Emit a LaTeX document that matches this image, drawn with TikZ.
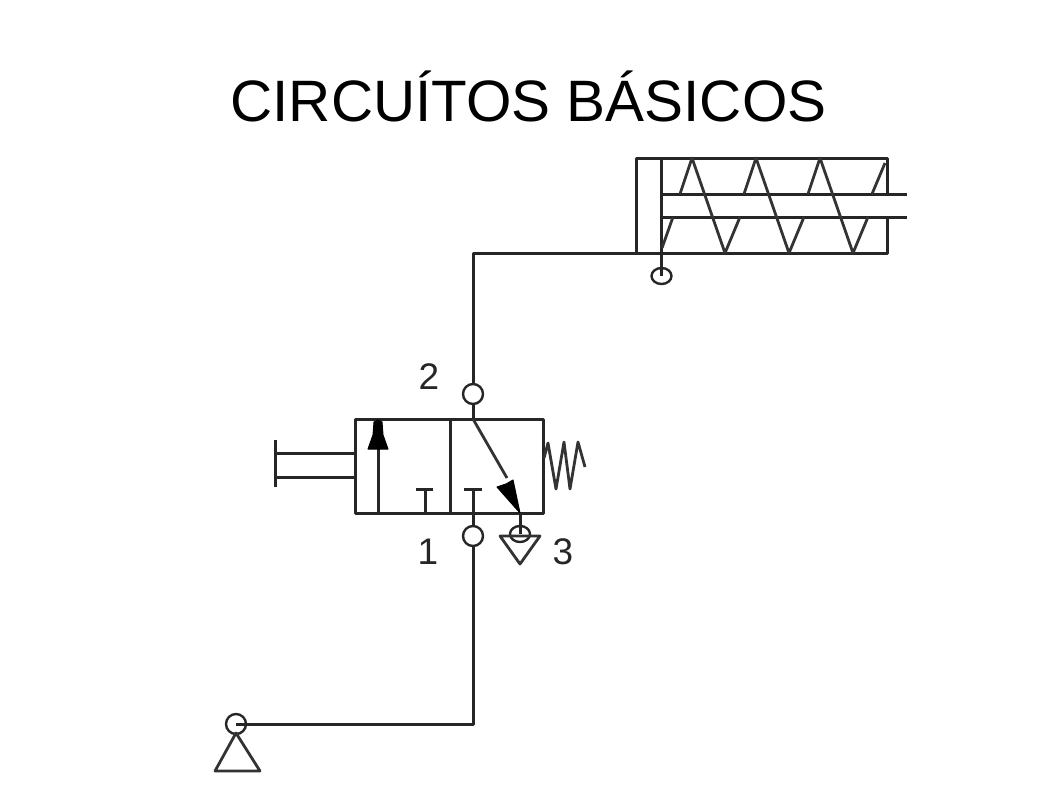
\documentclass[tikz,border=0pt]{standalone}
\usepackage{fontspec}
\setmainfont{Liberation Sans}
\usepackage{tikz}
\usetikzlibrary{shapes.geometric}
\tikzstyle{pipe}  = [draw, line width=3pt, line join=round, color=black!85]
\tikzstyle{thin}  = [draw, line width=2.8pt, line join=round, color=black!80]
\tikzstyle{port}  = [circle, draw, line width=2.4pt, color=black!85, minimum size=20pt, inner sep=0pt]
\tikzstyle{oval}  = [ellipse, draw, line width=2.4pt, color=black!85, minimum width=20pt, minimum height=16pt, inner sep=0pt]
\tikzstyle{digit} = [font=\fontsize{37}{37}\selectfont, inner sep=0pt, color=black!85]
\tikzstyle{head}  = [fill=black, draw, line width=1pt, line join=round]

\begin{document}
\begin{tikzpicture}[x=1pt, y=-1pt]
    \useasboundingbox (0,0) rectangle (1058,793);
    \node[font=\fontsize{58.4}{58.4}\selectfont, inner sep=0pt](title) at (528.5,96){CIRCUÍTOS BÁSICOS};

    % cylinder
    \coordinate (bend) at (473,253);
    \coordinate (corner) at (473,724);
    \coordinate (rodtop) at (907,194);
    \coordinate (rodbot) at (907,217);
    \node[oval](cylport) at (661.5,276){};
    \draw[pipe] (636,253) -- (636,158) -- (887,158) -- (887,194);
    \draw[pipe] (887,217) -- (887,253) -- (661.5,253);
    \draw[pipe] (661.5,158) -- (661.5,253) -- (cylport.center);
    \draw[pipe] (661.5,194) -- (rodtop);
    \draw[pipe] (661.5,217) -- (rodbot);
    \draw[thin] (662,248) -- (673,217);
    \draw[thin] (680,194) -- (692,158) -- (725,253) -- (740,217);
    \draw[thin] (744,194) -- (756,158) -- (789,253) -- (804,217);
    \draw[thin] (808,194) -- (820,158) -- (853,253) -- (868,217);
    \draw[thin] (872,194) -- (885,163);

    % valve
    \node[port](top) at (473,394){};
    \node[port](bot) at (473,536){};
    \node[digit](two) at (429,377){2};
    \node[digit](one) at (428,552){1};
    \node[digit](three) at (563,552){3};
    \draw[pipe] (355,419) rectangle (543,513);
    \draw[pipe] (450,419) -- (450,513);
    \draw[pipe] (378,513) -- (378,440);
    \draw[head] (378,420) -- (382,422) -- (383,435) -- (388,449) -- (368,449) -- (373,435) -- (374,422) -- cycle;
    \draw[pipe] (425,513) -- (425,489);
    \draw[pipe] (416,489) -- (433,489);
    \draw[pipe] (473,513) -- (473,489);
    \draw[pipe] (464,489) -- (482,489);
    \draw[thin] (473,419) -- (507,478);
    \draw[head] (520,513) -- (497,487) -- (506,484) -- (513,480) -- cycle;

    % lever and spring
    \draw[pipe] (275,440) -- (275,487);
    \draw[pipe] (275,453) -- (355,453);
    \draw[pipe] (275,477) -- (355,477);
    \draw[thin] (544,458) -- (548,443) -- (556,489) -- (564,442) -- (570,489) -- (578,442) -- (585,467);

    % exhaust
    \node[oval](vent) at (520,534){};
    \draw[pipe] (520,513) -- (vent.center);
    \draw[thin] (500,536) -- (540,536) -- (520,564) -- cycle;

    % source
    \node[port](source) at (236,724){};
    \draw[thin] (236,733) -- (260,771) -- (215,771) -- cycle;

    % lines
    \draw[pipe] (source.center) -- (corner) -- (bot);
    \draw[pipe] (bot) -- (473,513);
    \draw[pipe] (top) -- (473,419);
    \draw[pipe] (top) -- (bend) -- (661.5,253);
\end{tikzpicture}
\end{document}
